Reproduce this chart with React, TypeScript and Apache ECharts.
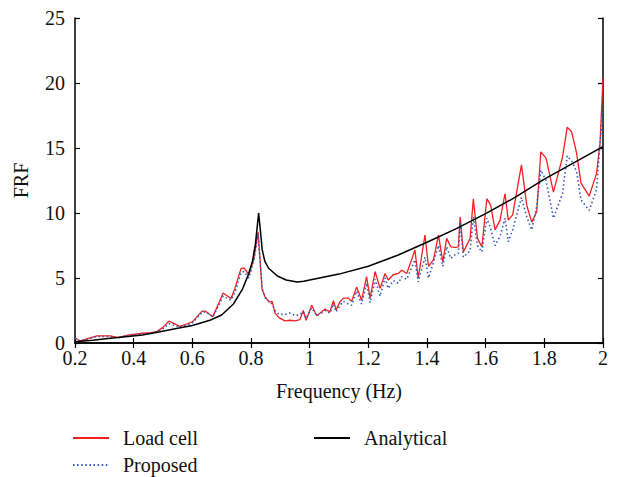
import React, { useEffect, useRef } from "react";
import * as echarts from "echarts";

// Measured frequencies (Hz) shared by the two measured series
const freq = [
  0.2, 0.217, 0.245, 0.275, 0.32, 0.347, 0.38, 0.43, 0.46, 0.48, 0.5, 0.52, 0.558, 0.585, 0.6,
  0.633, 0.645, 0.67, 0.705, 0.732, 0.745, 0.766, 0.776, 0.793, 0.81, 0.824, 0.838, 0.848, 0.862,
  0.872, 0.882, 0.895, 0.916, 0.933, 0.95, 0.967, 0.978, 0.988, 1.007, 1.024, 1.041, 1.052, 1.069,
  1.081, 1.09, 1.104, 1.115, 1.132, 1.143, 1.16, 1.177, 1.194, 1.206, 1.223, 1.24, 1.257, 1.268,
  1.285, 1.302, 1.314, 1.331, 1.359, 1.37, 1.393, 1.405, 1.422, 1.439, 1.454, 1.467, 1.481, 1.496,
  1.507, 1.513, 1.524, 1.547, 1.558, 1.572, 1.587, 1.604, 1.617, 1.632, 1.649, 1.666, 1.677, 1.692,
  1.722, 1.74, 1.757, 1.774, 1.788, 1.806, 1.831, 1.862, 1.878, 1.893, 1.91, 1.925, 1.953, 1.978,
  1.99, 2.0,
];

const loadCell = [
  0.4, 0.15, 0.35, 0.55, 0.55, 0.42, 0.6, 0.75, 0.8, 0.9, 1.2, 1.68, 1.28, 1.5, 1.62,
  2.45, 2.45, 2.02, 3.85, 3.42, 4.2, 5.72, 5.78, 5.25, 6.5, 8.55, 4.1, 3.55, 3.15,
  3.2, 2.3, 1.95, 1.7, 1.75, 1.7, 1.8, 2.5, 1.75, 2.9, 2.1, 2.4, 2.6, 2.4,
  3.25, 2.55, 3.2, 3.45, 3.45, 3.2, 4.3, 3.3, 5.1, 3.45, 5.5, 4.2, 5.35, 4.85,
  5.25, 5.35, 5.6, 5.35, 7.15, 5.0, 8.3, 5.9, 6.4, 8.3, 6.25, 8.05, 7.4, 7.35,
  7.4, 9.7, 7.0, 8.05, 11.1, 8.05, 7.4, 11.1, 10.6, 8.7, 9.45, 11.5, 9.45, 9.85,
  13.7, 10.6, 9.3, 10.1, 14.7, 14.2, 11.6, 14.3, 16.6, 16.25, 14.6, 12.3, 11.3, 13.05,
  15.4, 20.4,
];

const proposed = [
  0.35, 0.15, 0.3, 0.5, 0.5, 0.4, 0.55, 0.7, 0.75, 0.85, 1.1, 1.5, 1.2, 1.4, 1.55,
  2.35, 2.4, 2.0, 3.6, 3.3, 3.9, 5.4, 5.5, 5.0, 6.4, 8.4, 4.2, 3.5, 3.2,
  3.0, 2.5, 2.2, 2.2, 2.3, 2.1, 2.2, 2.4, 1.9, 2.7, 2.1, 2.3, 2.5, 2.3,
  3.0, 2.4, 2.9, 3.2, 3.0, 2.9, 4.0, 3.0, 4.6, 3.1, 4.9, 3.6, 5.0, 4.2,
  4.8, 4.6, 5.1, 4.9, 6.4, 4.7, 6.6, 5.0, 6.2, 7.5, 5.9, 7.4, 6.5, 6.8,
  6.9, 9.3, 6.6, 7.1, 9.7, 7.5, 7.0, 9.6, 8.8, 7.5, 8.2, 9.6, 7.8, 8.7,
  11.2, 9.7, 8.7, 10.5, 13.3, 12.5, 9.6, 11.5, 14.4, 14.0, 13.2, 11.0, 10.2, 11.8,
  15.4, 18.0,
];

// Analytical curve
const freqAnalytical = [
  0.2, 0.26, 0.32, 0.38, 0.43, 0.49, 0.55, 0.6, 0.66, 0.7, 0.74, 0.77, 0.79, 0.805, 0.815,
  0.821, 0.826, 0.831, 0.838, 0.847, 0.86, 0.89, 0.92, 0.957, 0.98, 1.0, 1.1, 1.2, 1.3,
  1.4, 1.5, 1.6, 1.7, 1.8, 1.9, 2.0,
];
const analytical = [
  0.1, 0.22, 0.36, 0.5, 0.62, 0.87, 1.13, 1.35, 1.75, 2.15, 3.0, 4.1, 5.2, 6.3, 7.6,
  8.9, 10.0, 8.9, 7.2, 6.3, 5.75, 5.15, 4.85, 4.7, 4.75, 4.85, 5.3, 5.9, 6.75,
  7.75, 8.8, 9.95, 11.2, 12.6, 13.85, 15.1,
];

const xTicks = { min: 0.2, max: 2, interval: 0.2 };
const yTicks = { min: 0, max: 25, interval: 5 };

const FONT = "'Liberation Serif', 'Times New Roman', serif";

export default function App() {
  const ref = useRef<HTMLDivElement>(null);
  useEffect(() => {
    if (!ref.current) return;
    const chart = echarts.init(ref.current, null, { renderer: "svg" });
    const axisLine = { show: true, lineStyle: { color: "#000", width: 1.5 } };
    const tick = { show: true, inside: true, length: 5, lineStyle: { color: "#000", width: 1.2 } };
    const lbl = { fontFamily: FONT, fontSize: 20, color: "#111" };
    const pairs = (xs: number[], ys: number[]) => xs.map((x, i) => [x, ys[i]]);
    const legendBase = {
      itemWidth: 36,
      itemHeight: 14,
      padding: 0,
      itemStyle: { opacity: 0 },
      textStyle: { ...lbl, padding: [0, 0, 0, 9] },
    };
    chart.setOption({
      animation: false,
      backgroundColor: "#fff",
      grid: { left: 75, right: 14, top: 18, bottom: 134, containLabel: false, outerBoundsMode: "none" },
      xAxis: [
        {
          type: "value",
          ...xTicks,
          axisLine,
          axisTick: tick,
          splitLine: { show: false },
          axisLabel: {
            ...lbl,
            margin: 5,
            formatter: (v: number) => String(+v.toFixed(1)),
          },
          name: "Frequency (Hz)",
          nameLocation: "middle",
          nameGap: 38,
          nameTextStyle: { ...lbl },
        },
        {
          type: "value",
          position: "top",
          ...xTicks,
          axisLine,
          axisTick: tick,
          splitLine: { show: false },
          axisLabel: { show: false },
        },
      ],
      yAxis: [
        {
          type: "value",
          ...yTicks,
          axisLine,
          axisTick: tick,
          splitLine: { show: false },
          axisLabel: { ...lbl, margin: 10 },
          name: "FRF",
          nameLocation: "middle",
          nameGap: 44,
          nameTextStyle: { ...lbl },
        },
        {
          type: "value",
          position: "right",
          ...yTicks,
          axisLine,
          axisTick: tick,
          splitLine: { show: false },
          axisLabel: { show: false },
        },
      ],
      legend: [
        { ...legendBase, data: ["Load cell"], left: 72, top: 428 },
        { ...legendBase, data: ["Analytical"], left: 313, top: 428 },
        { ...legendBase, data: ["Proposed"], left: 72, top: 455 },
      ],
      series: [
        {
          name: "Load cell",
          type: "line",
          data: pairs(freq, loadCell),
          symbol: "none",
          lineStyle: { color: "#f02020", width: 1.3 },
          itemStyle: { color: "#f02020" },
        },
        {
          name: "Proposed",
          type: "line",
          data: pairs(freq, proposed),
          symbol: "none",
          lineStyle: { color: "#3458c0", width: 1.6, type: [1.5, 2.6] },
          itemStyle: { color: "#3458c0" },
        },
        {
          name: "Analytical",
          type: "line",
          data: pairs(freqAnalytical, analytical),
          symbol: "none",
          lineStyle: { color: "#000", width: 1.5 },
          itemStyle: { color: "#000" },
        },
      ],
    });
    return () => chart.dispose();
  }, []);
  return (
    <div
      ref={ref}
      style={{ position: "fixed", left: 0, top: 0, width: 617, height: 477, background: "#fff" }}
    />
  );
}
